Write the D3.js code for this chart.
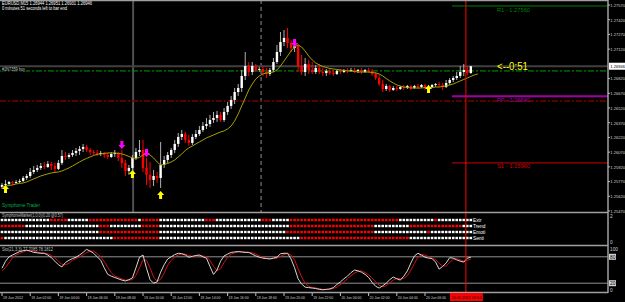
<!DOCTYPE html>
<html>
<head>
<meta charset="utf-8">
<script src="https://cdn.jsdelivr.net/npm/d3@7"></script>
<style>
body { margin: 0; background: #000; }
svg { display: block; font-family: "Liberation Sans", Arial, sans-serif; }
</style>
</head>
<body>
<div id="chart"></div>
<script>
// EURUSD M15, 19-20 Jun 2012
const opens = [
1.25715,1.25736,1.25746,1.25766,1.25756,1.25766,1.25776,1.25807,1.25827,1.25868,
1.25888,1.25909,1.25929,1.25919,1.25950,1.25929,1.25899,1.25960,1.26031,1.26021,
1.26041,1.26062,1.26082,1.26103,1.26123,1.26092,1.26072,1.26062,1.26052,1.26062,
1.26041,1.26021,1.26052,1.26062,1.26011,1.25960,1.25878,1.25909,1.26011,1.26072,
1.26092,1.25909,1.25838,1.25787,1.25827,1.25807,1.25939,1.25990,1.26041,1.26092,
1.26154,1.26225,1.26255,1.26194,1.26164,1.26225,1.26255,1.26296,1.26337,1.26357,
1.26398,1.26418,1.26449,1.26398,1.26480,1.26541,1.26602,1.26683,1.26724,1.26847,
1.26948,1.26887,1.26948,1.26908,1.26918,1.26887,1.26867,1.26908,1.26989,1.27091,
1.27193,1.27234,1.27183,1.27132,1.27152,1.26948,1.26887,1.26969,1.26908,1.26887,
1.26928,1.26887,1.26877,1.26898,1.26877,1.26867,1.26898,1.26887,1.26908,1.26898,
1.26908,1.26898,1.26908,1.26887,1.26908,1.26898,1.26867,1.26826,1.26765,1.26714,
1.26745,1.26704,1.26724,1.26714,1.26734,1.26724,1.26745,1.26724,1.26745,1.26734,
1.26755,1.26724,1.26734,1.26755,1.26765,1.26755,1.26734,1.26775,1.26806,1.26826,
1.26847,1.26887,1.26908,1.26877];
const highs = [
1.25756,1.25787,1.25776,1.25776,1.25787,1.25797,1.25827,1.25848,1.25909,1.25929,
1.25939,1.25960,1.25970,1.25980,1.25970,1.25960,1.25990,1.26092,1.26072,1.26062,
1.26092,1.26113,1.26133,1.26154,1.26143,1.26113,1.26092,1.26092,1.26082,1.26072,
1.26062,1.26072,1.26092,1.26072,1.26092,1.25990,1.25939,1.26041,1.26113,1.26194,
1.26194,1.26011,1.25970,1.25888,1.25868,1.26174,1.26031,1.26072,1.26113,1.26194,
1.26266,1.26296,1.26276,1.26245,1.26255,1.26296,1.26337,1.26378,1.26418,1.26449,
1.26480,1.26490,1.26480,1.26520,1.26582,1.26643,1.26724,1.26765,1.26908,1.27091,
1.26989,1.26989,1.26969,1.26938,1.26948,1.26928,1.26928,1.27030,1.27163,1.27295,
1.27315,1.27336,1.27213,1.27193,1.27173,1.27061,1.27030,1.27010,1.26989,1.26959,
1.26969,1.26928,1.26918,1.26918,1.26908,1.26908,1.26918,1.26918,1.26928,1.26928,
1.26928,1.26918,1.26928,1.26918,1.26928,1.26918,1.26887,1.26857,1.26806,1.26765,
1.26755,1.26745,1.26745,1.26745,1.26755,1.26755,1.26755,1.26755,1.26765,1.26765,
1.26765,1.26755,1.26765,1.26775,1.26785,1.26775,1.26806,1.26826,1.26847,1.26887,
1.26948,1.26969,1.26948,1.26948];
const lows = [
1.25695,1.25705,1.25736,1.25736,1.25746,1.25756,1.25766,1.25787,1.25807,1.25848,
1.25868,1.25888,1.25899,1.25909,1.25888,1.25858,1.25888,1.25939,1.25990,1.26001,
1.26021,1.26031,1.26041,1.26072,1.26072,1.26041,1.26041,1.26031,1.26031,1.26011,
1.26001,1.26011,1.26021,1.25980,1.25909,1.25827,1.25838,1.25888,1.25990,1.26031,
1.25868,1.25736,1.25705,1.25725,1.25756,1.25705,1.25909,1.25960,1.26011,1.26062,
1.26123,1.26194,1.26164,1.26133,1.26143,1.26204,1.26235,1.26276,1.26306,1.26327,
1.26368,1.26378,1.26378,1.26378,1.26449,1.26510,1.26561,1.26643,1.26683,1.26806,
1.26847,1.26857,1.26887,1.26887,1.26847,1.26826,1.26847,1.26887,1.26969,1.27050,
1.27152,1.27132,1.27091,1.27091,1.26887,1.26857,1.26847,1.26867,1.26867,1.26867,
1.26867,1.26847,1.26847,1.26857,1.26847,1.26857,1.26867,1.26877,1.26877,1.26887,
1.26877,1.26877,1.26867,1.26877,1.26877,1.26847,1.26806,1.26745,1.26683,1.26694,
1.26683,1.26694,1.26694,1.26704,1.26704,1.26714,1.26704,1.26714,1.26714,1.26724,
1.26704,1.26694,1.26724,1.26734,1.26734,1.26704,1.26724,1.26755,1.26785,1.26806,
1.26826,1.26847,1.26857,1.26867];
const closes = [
1.25736,1.25746,1.25766,1.25756,1.25766,1.25776,1.25807,1.25827,1.25868,1.25888,
1.25909,1.25929,1.25919,1.25950,1.25929,1.25899,1.25960,1.26031,1.26021,1.26041,
1.26062,1.26082,1.26103,1.26123,1.26092,1.26072,1.26062,1.26052,1.26062,1.26041,
1.26021,1.26052,1.26062,1.26011,1.25960,1.25878,1.25909,1.26011,1.26072,1.26092,
1.25909,1.25838,1.25787,1.25827,1.25807,1.25939,1.25990,1.26041,1.26092,1.26154,
1.26225,1.26255,1.26194,1.26164,1.26225,1.26255,1.26296,1.26337,1.26357,1.26398,
1.26418,1.26449,1.26398,1.26480,1.26541,1.26602,1.26683,1.26724,1.26847,1.26948,
1.26887,1.26948,1.26908,1.26918,1.26887,1.26867,1.26908,1.26989,1.27091,1.27193,
1.27234,1.27183,1.27132,1.27152,1.26948,1.26887,1.26969,1.26908,1.26887,1.26928,
1.26887,1.26877,1.26898,1.26877,1.26867,1.26898,1.26887,1.26908,1.26898,1.26908,
1.26898,1.26908,1.26887,1.26908,1.26898,1.26867,1.26826,1.26765,1.26714,1.26745,
1.26704,1.26724,1.26714,1.26734,1.26724,1.26745,1.26724,1.26745,1.26734,1.26755,
1.26724,1.26734,1.26755,1.26765,1.26755,1.26734,1.26775,1.26806,1.26826,1.26847,
1.26887,1.26908,1.26877,1.26946];

// moving average (shifted, so two values past the last bar)
const maValues = [
1.25715,1.25725,1.25731,1.25736,1.25746,1.25751,1.25756,1.25766,1.25782,1.25797,
1.25812,1.25827,1.25838,1.25848,1.25858,1.25863,1.25868,1.25878,1.25894,1.25909,
1.25929,1.25950,1.25970,1.25990,1.26006,1.26021,1.26036,1.26047,1.26052,1.26057,
1.26062,1.26062,1.26062,1.26057,1.26052,1.26041,1.26026,1.26011,1.26006,1.26016,
1.26041,1.26057,1.26041,1.26011,1.25970,1.25939,1.25945,1.25955,1.25970,1.25990,
1.26021,1.26052,1.26087,1.26113,1.26133,1.26154,1.26174,1.26194,1.26215,1.26230,
1.26245,1.26261,1.26276,1.26286,1.26306,1.26337,1.26388,1.26459,1.26541,1.26622,
1.26704,1.26765,1.26816,1.26847,1.26867,1.26877,1.26882,1.26887,1.26908,1.26948,
1.26999,1.27050,1.27101,1.27142,1.27163,1.27142,1.27101,1.27050,1.27010,1.26979,
1.26959,1.26943,1.26933,1.26923,1.26918,1.26913,1.26908,1.26903,1.26898,1.26898,
1.26892,1.26887,1.26887,1.26887,1.26887,1.26882,1.26877,1.26867,1.26847,1.26821,
1.26796,1.26775,1.26755,1.26745,1.26734,1.26729,1.26724,1.26724,1.26724,1.26724,
1.26729,1.26729,1.26729,1.26734,1.26734,1.26740,1.26745,1.26755,1.26765,1.26780,
1.26796,1.26811,1.26826,1.26842,1.26857,1.26867];

// signal arrows: bar index and price of the arrow tip
const upArrowBars = [1, 37, 45, 121];
const upArrowPrices = [1.25736, 1.25888, 1.25675, 1.26755];
const downArrowBars = [34, 41, 83];
const downArrowPrices = [1.26103, 1.26021, 1.27142];

// daily pivots
const pivotNames = ['R1', 'PP', 'S1'];
const pivotValues = [1.27560, 1.26640, 1.25960];
const pivotColors = ['#008000', '#a000a0', '#d00000'];

const bidPrice = 1.26946;
const orderPrice = 1.26898;
const stopPrice = 1.26591;

// vertical line objects (bar position)
const greyLineBar = 37.2;
const dashLineBar = 73.5;
const redLineBar = 131.6;

// price axis labels
const priceTicks = [1.27570,1.27420,1.27270,1.27120,1.26820,1.26670,1.26520,
  1.26370,1.26220,1.26070,1.25920,1.25770,1.25620,1.25470];

// SymphonieMarket rows: runs of dots, alternating white / red from the given start
const symRowNames = ['Extr', 'Trend', 'Emoti', 'Senti'];
const symRowStart = ['w', 'r', 'w', 'r'];
const symRowRuns = [
  [14, 5, 6, 14, 1, 5, 13, 3, 13, 3, 5, 31, 10, 1, 10],
  [7, 21, 3, 9, 5, 37, 24, 10, 15, 3],
  [28, 17, 36, 25, 15, 1, 12],
  [1, 31, 13, 40, 31, 18]
];

// Stochastic(21,3,3)
const stoK = [
54,70,80,84,88,92,94,95,93,90,
89,88,88,84,78,70,62,57,67,72,
76,79,84,90,97,93,88,80,72,55,
40,36,33,30,27,25,28,32,55,79,
84,54,28,20,23,45,62,75,80,85,
88,87,84,79,81,83,84,80,77,58,
40,50,70,82,86,90,91,92,91,90,
90,86,82,79,77,76,75,77,79,87,
88,88,75,55,30,18,11,10,9,8,
6,5,6,7,10,17,23,30,36,44,
50,48,45,40,33,22,13,9,14,20,
28,34,30,27,36,48,66,82,88,84,
79,77,76,68,52,58,66,78,77,73,
70,68,77,79];
const stoD = [
48,56,66,78,84,88,91,94,94,93,
91,89,88,87,83,77,70,63,62,65,
72,76,80,84,90,93,93,87,80,69,
56,44,36,33,30,27,27,28,38,55,
73,72,55,34,24,29,43,61,72,80,
84,87,86,83,81,81,83,82,80,72,
58,49,53,67,79,86,89,91,91,91,
90,89,86,82,79,77,76,76,77,81,
85,88,84,73,53,34,20,13,10,9,
8,6,6,6,8,11,17,23,30,37,
43,47,48,44,39,32,23,15,12,14,
21,27,31,30,31,37,50,65,79,85,
84,80,77,74,65,59,59,67,74,76,
73,70,72,75];

// time axis
const timeTickBars = [0,8,16,24,32,40,48,56,64,72,80,88,96,104,112,120];
const timeTickLabels = ['19 Jun 2012','19 Jun 02:00','19 Jun 04:00','19 Jun 06:00',
  '19 Jun 08:00','19 Jun 10:00','19 Jun 12:00','19 Jun 14:00','19 Jun 16:00',
  '19 Jun 18:00','19 Jun 20:00','19 Jun 22:00','20 Jun 00:00','20 Jun 02:00',
  '20 Jun 04:00','20 Jun 06:00'];
const redLineLabel = '20.06.2012 08:54';

// layout
const W = 625, H = 302;
const AXIS_X = 608;
const MAIN_BOTTOM = 212;
const SYM_BOTTOM = 245;
const STO_BOTTOM = 292;
const BAR_STEP = 3.525;

const svg = d3.select('#chart').append('svg')
  .attr('width', W).attr('height', H);
svg.append('rect').attr('width', W).attr('height', H).attr('fill', '#000');

const x = d3.scaleLinear().domain([0, 1]).range([2, 2 + BAR_STEP]);
const y = d3.scaleLinear().domain([1.2547, 1.2756]).range([211, 6]);
const yS = d3.scaleLinear().domain([0, 100]).range([292, 248]);

function txt(g, s, px, py, size, color, len) {
  const t = g.append('text').text(s)
    .attr('x', px).attr('y', py)
    .attr('font-size', size).attr('fill', color);
  if (len) t.attr('textLength', len).attr('lengthAdjust', 'spacingAndGlyphs');
  return t;
}

// ---- main panel ----
const main = svg.append('g').attr('class', 'main');

// vertical objects
main.append('line')
  .attr('x1', x(greyLineBar)).attr('x2', x(greyLineBar))
  .attr('y1', 0).attr('y2', MAIN_BOTTOM)
  .attr('stroke', '#505050').attr('stroke-width', 2);
main.append('line')
  .attr('x1', x(dashLineBar)).attr('x2', x(dashLineBar))
  .attr('y1', 0).attr('y2', MAIN_BOTTOM)
  .attr('stroke', '#909090').attr('stroke-width', 1)
  .attr('stroke-dasharray', '4,3');

// bid line
main.append('line')
  .attr('x1', 0).attr('x2', AXIS_X)
  .attr('y1', y(bidPrice)).attr('y2', y(bidPrice))
  .attr('stroke', '#404040').attr('stroke-width', 2);
// order + stop lines
main.append('line')
  .attr('x1', 0).attr('x2', AXIS_X)
  .attr('y1', y(orderPrice)).attr('y2', y(orderPrice))
  .attr('stroke', '#00a000').attr('stroke-width', 1)
  .attr('stroke-dasharray', '6,2,2,2');
main.append('line')
  .attr('x1', 0).attr('x2', AXIS_X)
  .attr('y1', y(stopPrice)).attr('y2', y(stopPrice))
  .attr('stroke', '#7a0000').attr('stroke-width', 1.5)
  .attr('stroke-dasharray', '6,2,2,2');

// pivots
pivotValues.forEach((v, i) => {
  main.append('line')
    .attr('x1', 452).attr('x2', AXIS_X)
    .attr('y1', y(v)).attr('y2', y(v))
    .attr('stroke', pivotColors[i]).attr('stroke-width', i === 1 ? 2 : 1);
  txt(main, pivotNames[i] + ' - ' + v.toFixed(5), 497, y(v) + 5.5, 5.5, pivotColors[i], 33);
});

// candles
const bars = opens.map((o, i) => ({i: i, o: o, h: highs[i], l: lows[i], c: closes[i]}));
const cg = main.append('g').attr('class', 'candles');
cg.selectAll('line')
  .data(bars)
  .join('line')
  .attr('x1', d => x(d.i)).attr('x2', d => x(d.i))
  .attr('y1', d => y(d.h)).attr('y2', d => y(d.l))
  .attr('stroke', d => d.c >= d.o ? '#b0b0b0' : '#ff0000')
  .attr('stroke-width', 1);
cg.selectAll('rect')
  .data(bars)
  .join('rect')
  .attr('x', d => x(d.i) - 1.2)
  .attr('width', 2.4)
  .attr('y', d => y(Math.max(d.o, d.c)))
  .attr('height', d => Math.max(1, Math.abs(y(d.o) - y(d.c))))
  .attr('fill', d => d.c >= d.o ? '#ffffff' : '#ff0000');

// moving average
main.append('path')
  .datum(maValues)
  .attr('fill', 'none')
  .attr('stroke', '#a8a000')
  .attr('stroke-width', 1)
  .attr('d', d3.line().x((d, i) => x(i)).y(d => y(d)));

// arrows
function upArrow(cx, top) {
  return `M${cx},${top} L${cx + 3.5},${top + 4} L${cx + 1.5},${top + 4} L${cx + 1.5},${top + 8} ` +
         `L${cx - 1.5},${top + 8} L${cx - 1.5},${top + 4} L${cx - 3.5},${top + 4} Z`;
}
function downArrow(cx, bottom) {
  return `M${cx},${bottom} L${cx + 3.5},${bottom - 4} L${cx + 1.5},${bottom - 4} L${cx + 1.5},${bottom - 8} ` +
         `L${cx - 1.5},${bottom - 8} L${cx - 1.5},${bottom - 4} L${cx - 3.5},${bottom - 4} Z`;
}
main.selectAll('path.up')
  .data(upArrowBars)
  .join('path').attr('class', 'up')
  .attr('d', (b, k) => upArrow(x(b), y(upArrowPrices[k])))
  .attr('fill', '#ffff00');
main.selectAll('path.down')
  .data(downArrowBars)
  .join('path').attr('class', 'down')
  .attr('d', (b, k) => downArrow(x(b), y(downArrowPrices[k])))
  .attr('fill', '#ff00ff');

// texts
txt(main, 'EURUSD,M15  1.26944 1.26951 1.26931 1.26946', 2, 5, 4.6, '#ffffff', 90);
txt(main, '0 minutes 51 seconds left to bar end', 2, 10, 4.6, '#ffffff', 65);
main.append('rect').attr('x', 1).attr('y', y(bidPrice) + 1).attr('width', 25).attr('height', 4).attr('fill', '#000');
txt(main, '#2N7359 buy', 2, y(bidPrice) + 5, 4.6, '#c8c8c8', 23);
txt(main, '<--0:51', 497, y(bidPrice) + 4, 10, '#ffff00', 31);
txt(main, 'Symphonie Trader', 2, 207, 5.5, '#00b050', 38);

// ---- SymphonieMarket panel ----
const sym = svg.append('g').attr('class', 'sym');
txt(sym, 'SymphonieMarket(1,0,0)(0.20 @0.57)', 2, 217, 4.6, '#c0c0c0', 61);
const symY = [220, 226, 232, 238];
symRowRuns.forEach((runs, r) => {
  const dots = [];
  let state = symRowStart[r];
  let bar = 0;
  runs.forEach(n => {
    for (let k = 0; k < n; k++) dots.push({b: bar++, s: state});
    state = state === 'w' ? 'r' : 'w';
  });
  sym.append('g').selectAll('rect')
    .data(dots)
    .join('rect')
    .attr('x', d => x(d.b) - 1.3)
    .attr('y', symY[r] - 1.2)
    .attr('width', 2.6).attr('height', 2.4)
    .attr('fill', d => d.s === 'w' ? '#ffffff' : '#ff0000');
  txt(sym, symRowNames[r], 473, symY[r] + 2, 4.8, '#ffffff');
});

// ---- Stochastic panel ----
const sto = svg.append('g').attr('class', 'sto');
[80, 20].forEach(lv => {
  sto.append('line')
    .attr('x1', 0).attr('x2', AXIS_X)
    .attr('y1', yS(lv)).attr('y2', yS(lv))
    .attr('stroke', '#909090').attr('stroke-width', 1);
});
txt(sto, 'Sto(21,3,3) 77.7085 78.1812', 2, 251, 4.6, '#c0c0c0', 51);
sto.append('path')
  .datum(stoD)
  .attr('fill', 'none').attr('stroke', '#d01010').attr('stroke-width', 1)
  .attr('d', d3.line().x((d, i) => x(i)).y(d => yS(d)));
sto.append('path')
  .datum(stoK)
  .attr('fill', 'none').attr('stroke', '#d8d8d8').attr('stroke-width', 1)
  .attr('d', d3.line().x((d, i) => x(i)).y(d => yS(d)));

// red vertical line over all panels
svg.append('line')
  .attr('x1', x(redLineBar)).attr('x2', x(redLineBar))
  .attr('y1', 0).attr('y2', STO_BOTTOM + 1)
  .attr('stroke', '#ff0000').attr('stroke-width', 1);

// ---- frame ----
const frame = svg.append('g').attr('stroke', '#a0a0a0').attr('stroke-width', 1.5);
[0.5, MAIN_BOTTOM + 0.5, SYM_BOTTOM + 0.5, STO_BOTTOM + 0.5].forEach(py => {
  frame.append('line').attr('x1', 0).attr('x2', AXIS_X).attr('y1', py).attr('y2', py);
});
frame.append('line').attr('x1', AXIS_X).attr('x2', AXIS_X).attr('y1', 0).attr('y2', STO_BOTTOM + 1);

// price axis
const ax = svg.append('g').attr('class', 'price-axis');
priceTicks.forEach(p => {
  ax.append('line').attr('x1', AXIS_X).attr('x2', AXIS_X + 2)
    .attr('y1', y(p)).attr('y2', y(p)).attr('stroke', '#c0c0c0');
  txt(ax, p.toFixed(5), AXIS_X + 2.3, y(p) + 1.8, 4.1, '#d0d0d0');
});
ax.append('rect').attr('x', AXIS_X + 1).attr('y', y(bidPrice) - 3.5)
  .attr('width', 16).attr('height', 7).attr('fill', '#ffffff');
txt(ax, bidPrice.toFixed(5), AXIS_X + 2.3, y(bidPrice) + 1.8, 4.1, '#000000');
// indicator axes
txt(ax, '2', AXIS_X + 2, 218, 4.8, '#d0d0d0');
txt(ax, '0', AXIS_X + 2, 244, 4.8, '#d0d0d0');
txt(ax, '100', AXIS_X + 2, 251, 4.8, '#d0d0d0');
[80, 20].forEach(lv => {
  ax.append('rect').attr('x', AXIS_X + 1).attr('y', yS(lv) - 3)
    .attr('width', 7).attr('height', 6).attr('fill', '#d0d0d0');
  txt(ax, String(lv), AXIS_X + 2, yS(lv) + 2, 4.8, '#000000');
});
txt(ax, '0', AXIS_X + 2, 292, 4.8, '#d0d0d0');

// time axis
const tg = svg.append('g').attr('class', 'time-axis');
timeTickBars.forEach((b, k) => {
  tg.append('line').attr('x1', x(b)).attr('x2', x(b))
    .attr('y1', STO_BOTTOM + 1).attr('y2', STO_BOTTOM + 4).attr('stroke', '#c0c0c0');
  txt(tg, timeTickLabels[k], x(b) + 1, 299, 4.2, '#d0d0d0', 20);
});
tg.append('rect').attr('x', x(redLineBar) - 16).attr('y', STO_BOTTOM + 1)
  .attr('width', 33).attr('height', 8).attr('fill', '#ff0000');
txt(tg, redLineLabel, x(redLineBar) - 14.5, 299, 4.2, '#000000', 30);
</script>
</body>
</html>
